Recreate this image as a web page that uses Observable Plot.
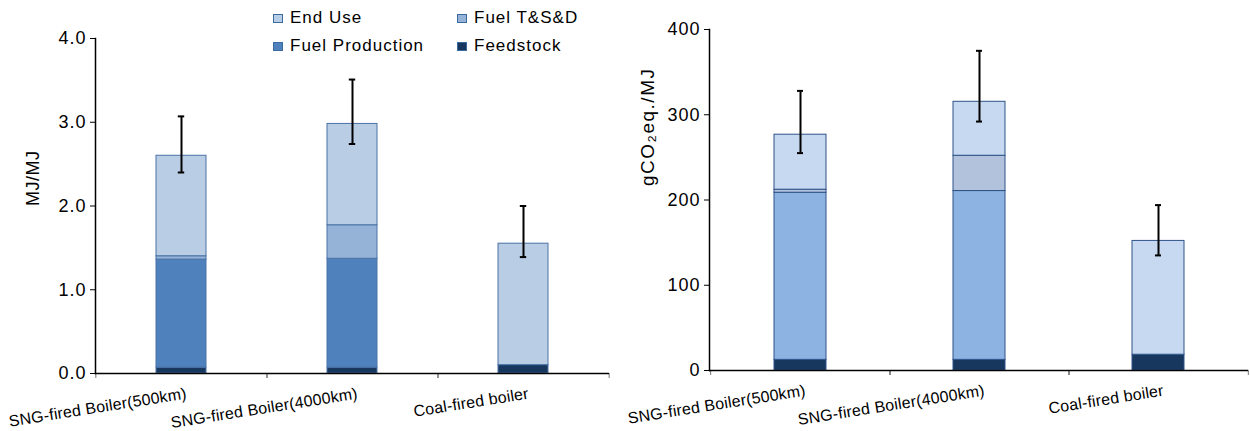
<!DOCTYPE html>
<html><head><meta charset="utf-8">
<script src="https://cdn.jsdelivr.net/npm/d3@7"></script>
<script src="https://cdn.jsdelivr.net/npm/@observablehq/plot@0.6"></script>
<style>
body{margin:0;background:#fff;font-family:"Liberation Sans",Arial,sans-serif;}
#wrap{position:relative;width:1250px;height:431px;overflow:hidden;background:#fff;}
#left{position:absolute;left:0;top:0;}
#right{position:absolute;left:625px;top:0;}
.li{position:absolute;display:flex;align-items:center;font-size:17px;letter-spacing:1px;color:#000;height:20px;white-space:nowrap;}
.sw{width:8px;height:7px;margin-right:7px;border:1px solid #3b6aa0;}
[aria-label="y-axis tick label"] text{letter-spacing:1px;}
.ylab text{letter-spacing:0.5px;}
.ylab2 text{letter-spacing:1.5px;}
.cat text{letter-spacing:0.2px;}
</style></head><body>
<div id="wrap"><div id="left"></div><div id="right"></div><div id="legend"></div></div>
<script>
const categories = ["SNG-fired Boiler(500km)", "SNG-fired Boiler(4000km)", "Coal-fired boiler"];
const components = ["Feedstock", "Fuel Production", "Fuel T&S&D", "End Use"];
const legendOrder = ["End Use", "Fuel T&S&D", "Fuel Production", "Feedstock"];

// Left chart: energy (MJ/MJ)
const energyFeedstock = [0.07, 0.07, 0.10];
const energyFuelProduction = [1.29, 1.30, 0];
const energyTSD = [0.04, 0.40, 0];
const energyEndUse = [1.20, 1.21, 1.45];
const energyErrLow = [2.40, 2.74, 1.39];
const energyErrHigh = [3.07, 3.51, 2.00];
const energyTicks = [0, 1, 2, 3, 4];

// Right chart: GHG (gCO2eq./MJ)
const ghgFeedstock = [12.5, 12.5, 18.5];
const ghgFuelProduction = [196, 198, 0];
const ghgTSD = [3.6, 41.4, 0];
const ghgEndUse = [64.5, 63.3, 133.5];
const ghgErrLow = [255, 292, 135];
const ghgErrHigh = [328, 375, 194];
const ghgTicks = [0, 100, 200, 300, 400];

const leftColors = ["#17375e", "#4f81bd", "#95b3d7", "#b9cde5"];
const rightColors = ["#17375e", "#8db3e2", "#b3c2dc", "#c6d9f1"];

function rows(series) {
  const out = [];
  categories.forEach((c, i) => components.forEach((k, j) => {
    const v = series[j][i];
    if (v > 0) out.push({category: c, component: k, value: v});
  }));
  return out;
}
function errs(lo, hi) { return categories.map((c, i) => ({category: c, lo: lo[i], hi: hi[i]})); }

function chart(o) {
  const step = (o.width - o.ml - o.mr) / categories.length;
  return Plot.plot({
    width: o.width, height: o.height,
    marginLeft: o.ml, marginRight: o.mr, marginTop: o.mt, marginBottom: o.mb,
    style: {fontFamily: '"Liberation Sans", Arial, sans-serif', fontSize: "17px", color: "#000", background: "#fff", overflow: "visible"},
    x: {domain: categories, paddingInner: 0.71, paddingOuter: 0.355, label: null, axis: null},
    y: {domain: o.yDomain, label: null, axis: null},
    color: {domain: components, range: o.colors},
    marks: [
      Plot.barY(o.data, {x: "category", y: "value", fill: "component", order: components, stroke: o.stroke, strokeWidth: 1}),
      Plot.ruleX(o.err, {x: "category", y1: "lo", y2: "hi", stroke: "#000", strokeWidth: 2}),
      Plot.tickY(o.err, {x: "category", y: "lo", stroke: "#000", strokeWidth: 2, insetLeft: o.capInset, insetRight: o.capInset}),
      Plot.tickY(o.err, {x: "category", y: "hi", stroke: "#000", strokeWidth: 2, insetLeft: o.capInset, insetRight: o.capInset}),
      Plot.axisY({ticks: o.yTicks, tickFormat: o.yFormat, tickSize: 5, tickPadding: 4, label: null, fontSize: 18}),
      Plot.text([o.yLabel], {frameAnchor: "left", dx: -62, dy: o.labelDy, rotate: -90, fontSize: o.labelSize, className: o.labelClass}),
      Plot.text(categories, {x: d => d, frameAnchor: "bottom", textAnchor: "end", lineAnchor: "middle", rotate: -9, dx: 5, dy: 20, fontSize: 16, className: "cat"}),
      Plot.axisX({text: null, tickSize: 5, dx: step / 2, stroke: "#777", label: null}),
      Plot.axisX({text: null, tickSize: 5, dx: -step / 2, stroke: "#777", label: null}),
      Plot.frame({anchor: "left", stroke: "#000", strokeWidth: 1.5}),
      Plot.ruleY([0], {stroke: "#000", strokeWidth: 1.5})
    ]
  });
}

document.getElementById("left").append(chart({
  data: rows([energyFeedstock, energyFuelProduction, energyTSD, energyEndUse]),
  err: errs(energyErrLow, energyErrHigh),
  colors: leftColors, yDomain: [0, 4], yTicks: energyTicks, yFormat: d3.format(".1f"), yLabel: "MJ/MJ",
  labelDy: 0, labelSize: 18, labelClass: "ylab",
  width: 625, height: 431, ml: 95, mr: 16, mt: 38, mb: 58, stroke: "#4a72a6", capInset: 21.8
}));
document.getElementById("right").append(chart({
  data: rows([ghgFeedstock, ghgFuelProduction, ghgTSD, ghgEndUse]),
  err: errs(ghgErrLow, ghgErrHigh),
  colors: rightColors, yDomain: [0, 400], yTicks: ghgTicks, yFormat: d3.format("d"), yLabel: "gCO₂eq./MJ",
  labelDy: -14, labelSize: 19, labelClass: "ylab2",
  width: 625, height: 431, ml: 84, mr: 2, mt: 29, mb: 61, stroke: "#2e5287", capInset: 23
}));

// Legend
const legendPos = [[273, 8], [457, 8], [273, 36], [457, 36]];
const legend = document.getElementById("legend");
legendOrder.forEach((name, i) => {
  const item = document.createElement("div");
  item.className = "li";
  item.style.left = legendPos[i][0] + "px";
  item.style.top = legendPos[i][1] + "px";
  const sw = document.createElement("span");
  sw.className = "sw";
  sw.style.background = leftColors[components.indexOf(name)];
  item.append(sw, document.createTextNode(name));
  legend.append(item);
});
</script>
</body></html>
